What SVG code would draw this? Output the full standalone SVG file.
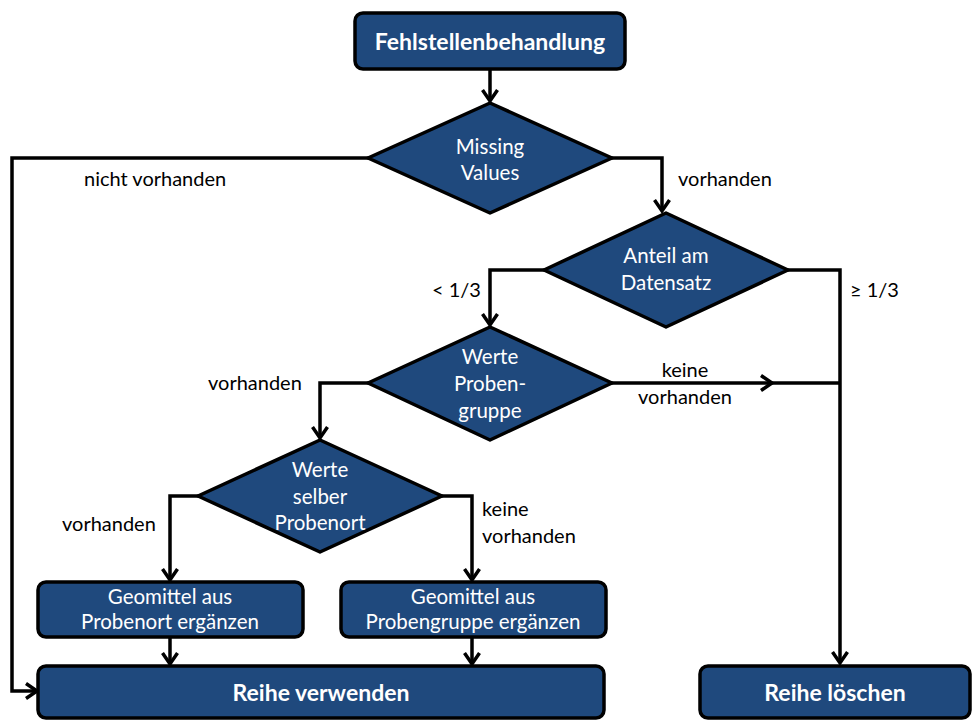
<svg xmlns="http://www.w3.org/2000/svg" width="975" height="720" viewBox="0 0 975 720">
<style>
.n{fill:#1F497D;stroke:#000;stroke-width:3.5;stroke-linejoin:round}
.t{font-family:Lato,"Liberation Sans",sans-serif;fill:#fff;font-size:20.5px;text-anchor:middle}
.b{font-weight:bold;font-size:23px}
.l{font-family:Lato,"Liberation Sans",sans-serif;fill:#000;font-size:20px}
.c{fill:none;stroke:#000;stroke-width:3.5;stroke-linejoin:miter}
</style>
<defs>
<marker id="a" markerUnits="userSpaceOnUse" markerWidth="20" markerHeight="20" refX="12" refY="10" orient="auto" overflow="visible">
<path d="M1,2.5 L12,10 L1,17.5" fill="none" stroke="#000" stroke-width="3.5"/>
</marker>
</defs>
<rect width="975" height="720" fill="#fff"/>
<g id="connectors">
<path class="c" d="M490,70 V101" marker-end="url(#a)"/>
<path class="c" d="M368,158 H12 V691 H37" marker-end="url(#a)"/>
<path class="c" d="M612,158 H662 V211" marker-end="url(#a)"/>
<path class="c" d="M544,270 H490 V325" marker-end="url(#a)"/>
<path class="c" d="M788,270 H840 V663" marker-end="url(#a)"/>
<path class="c" d="M612,383 H772" marker-end="url(#a)"/>
<path class="c" d="M770,383 H840"/>
<path class="c" d="M368,383 H320 V438" marker-end="url(#a)"/>
<path class="c" d="M198,496 H170 V580" marker-end="url(#a)"/>
<path class="c" d="M442,496 H472 V580" marker-end="url(#a)"/>
<path class="c" d="M170,638 V664" marker-end="url(#a)"/>
<path class="c" d="M472,638 V664" marker-end="url(#a)"/>
<text class="l" x="84" y="186">nicht vorhanden</text>
<text class="l" x="678" y="186">vorhanden</text>
<text class="l" x="432" y="297">&lt; 1/3</text>
<text class="l" x="850" y="297">≥ 1/3</text>
<text class="l" x="208" y="390">vorhanden</text>
<text class="l" x="685" y="377" text-anchor="middle">keine</text>
<text class="l" x="685" y="404" text-anchor="middle">vorhanden</text>
<text class="l" x="62" y="531">vorhanden</text>
<text class="l" x="482" y="516">keine</text>
<text class="l" x="482" y="543">vorhanden</text>
</g>
<g id="start">
<rect class="n" x="355" y="13" width="270" height="56" rx="8"/>
<text class="t b" x="490" y="50">Fehlstellenbehandlung</text>
</g>
<g id="d1">
<polygon class="n" points="490,103 612,158 490,213 368,158"/>
<text class="t" x="490" y="154">Missing</text>
<text class="t" x="490" y="180">Values</text>
</g>
<g id="d2">
<polygon class="n" points="666,213 788,270 666,327 544,270"/>
<text class="t" x="666" y="263">Anteil am</text>
<text class="t" x="666" y="290">Datensatz</text>
</g>
<g id="d3">
<polygon class="n" points="490,327 612,383 490,440 368,383"/>
<text class="t" x="490" y="364">Werte</text>
<text class="t" x="490" y="391">Proben-</text>
<text class="t" x="490" y="418">gruppe</text>
</g>
<g id="d4">
<polygon class="n" points="320,440 442,496 320,552 198,496"/>
<text class="t" x="320" y="477">Werte</text>
<text class="t" x="320" y="504">selber</text>
<text class="t" x="320" y="530">Probenort</text>
</g>
<g id="box1">
<rect class="n" x="38" y="582" width="265" height="55" rx="8"/>
<text class="t" x="170" y="604">Geomittel aus</text>
<text class="t" x="170" y="629">Probenort ergänzen</text>
</g>
<g id="box2">
<rect class="n" x="341" y="582" width="265" height="55" rx="8"/>
<text class="t" x="473" y="604">Geomittel aus</text>
<text class="t" x="473" y="629">Probengruppe ergänzen</text>
</g>
<g id="use">
<rect class="n" x="38" y="666" width="566" height="52" rx="8"/>
<text class="t b" x="321" y="701">Reihe verwenden</text>
</g>
<g id="delete">
<rect class="n" x="700" y="666" width="270" height="52" rx="8"/>
<text class="t b" x="835" y="701">Reihe löschen</text>
</g>
</svg>
